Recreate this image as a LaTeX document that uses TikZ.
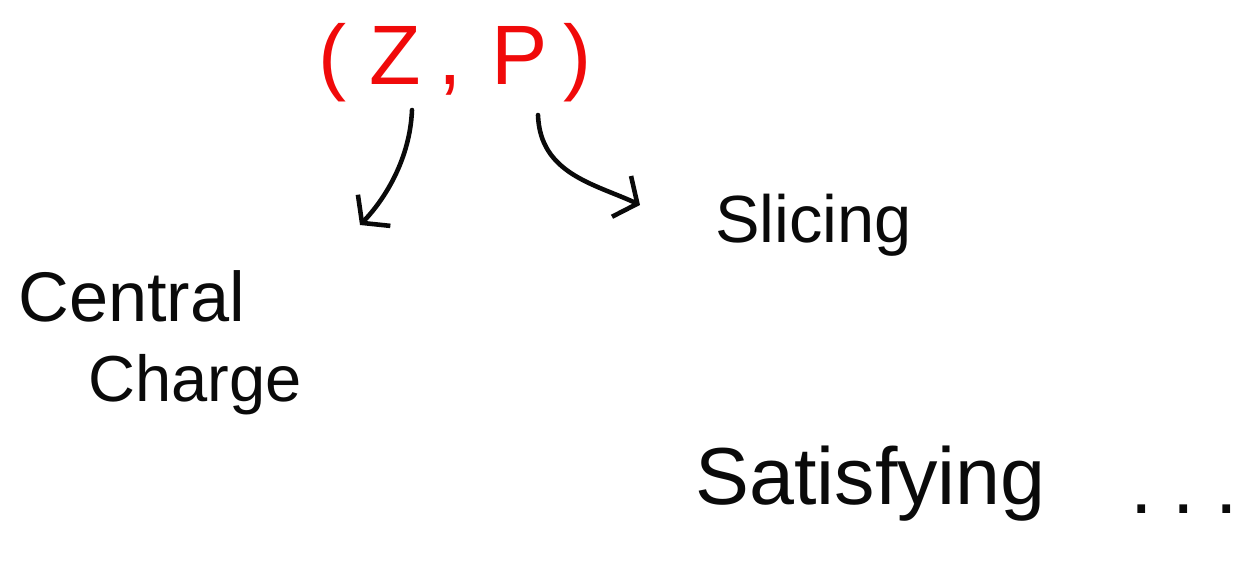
\documentclass[tikz,border=0pt]{standalone}
\usepackage{fontspec}
\setmainfont{Liberation Sans}
\usepackage{tikz}
\usetikzlibrary{arrows.meta, positioning}
\definecolor{penred}{RGB}{240, 10, 10}
\definecolor{penblack}{RGB}{10, 10, 10}

\begin{document}
\begin{tikzpicture}[
  word/.style={
    inner sep=0pt, anchor=base west,
    text=penblack
  },
  arrow/.style={-{Straight Barb[length=3.5mm, width=9mm]}, line width=2.6pt,
    line cap=round, line join=round, color=penblack}
]
  \useasboundingbox (0,0) rectangle (24.9,11.58);

  \node[inner sep=0pt, text=penred, font=\fontsize{48}{52}\selectfont] (zp) at (9.1,10.32)
    {(\hspace{0.45cm}Z\hspace{0.35cm},\hspace{0.6cm}P\hspace{0.3cm})};
  \node[word, font=\fontsize{38}{42}\selectfont] (slice) at (14.3,6.72) {Slicing};
  \node[word, font=\fontsize{40}{44}\selectfont] (central) at (0.36,5.14) {Central};
  \node[word, font=\fontsize{37}{42}\selectfont] (charge) at (1.76,3.54) {Charge};
  \node[word, font=\fontsize{46}{50}\selectfont] (satis) at (13.9,1.48) {Satisfying};
  \node[word, font=\fontsize{46}{50}\selectfont] (dots) at (22.6,1.3) {.\hspace{0.4cm}.\hspace{0.4cm}.};

  \coordinate (zfoot) at (8.24,9.38);
  \coordinate (pfoot) at (10.76,9.28);
  \coordinate (zend) at (7.2,7.08);
  \coordinate (pend) at (12.8,7.48);

  \draw[arrow] (zfoot) .. controls (8.2,8.4) and (7.7,7.6) .. (zend);
  \draw[arrow] (pfoot) .. controls (10.8,8.1) and (11.9,7.9) .. (pend);
\end{tikzpicture}
\end{document}
